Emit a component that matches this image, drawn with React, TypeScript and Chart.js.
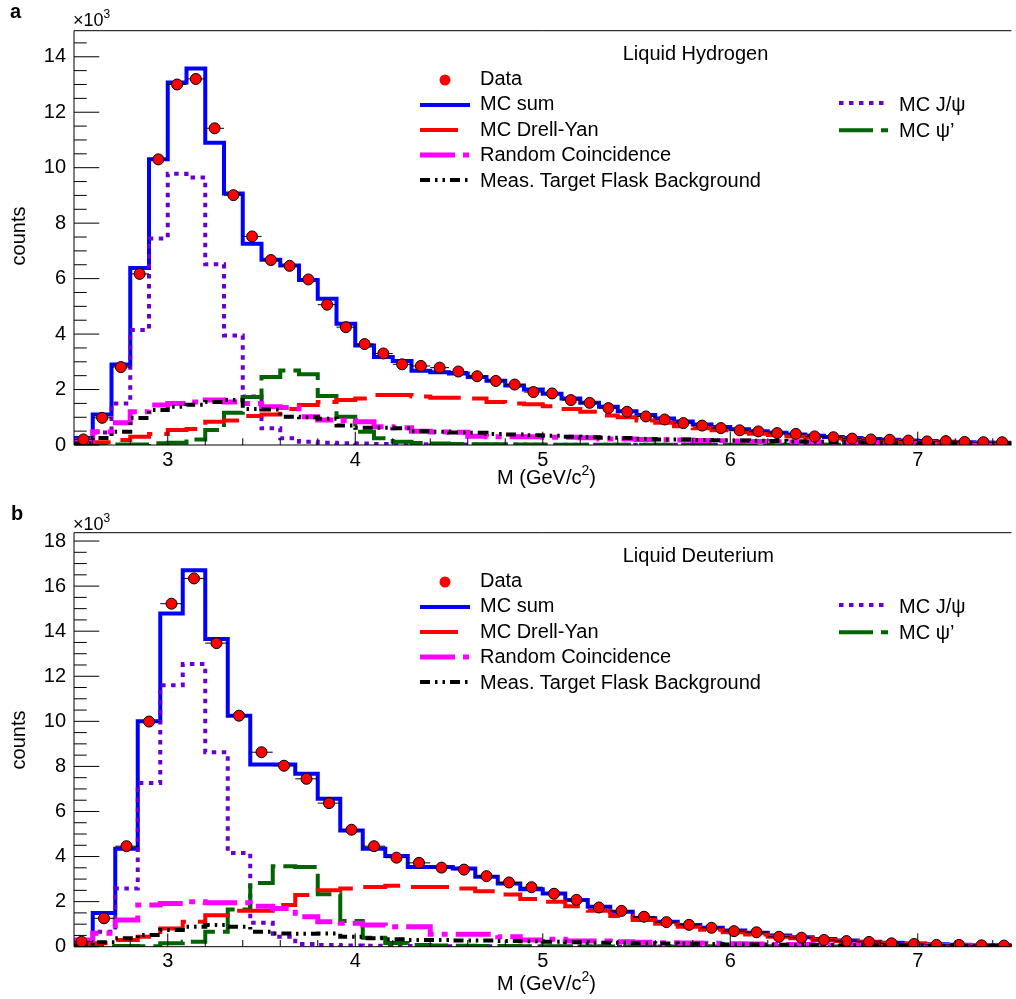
import React, { useEffect, useRef } from 'react';
import { Chart, registerables } from 'chart.js';

Chart.register(...registerables);

const FONT = '"Liberation Sans", Arial, Helvetica, sans-serif';

// ---- axes ----
const X_TICKS = [3, 4, 5, 6, 7];
const Y_TICKS_H = [0, 2, 4, 6, 8, 10, 12, 14];
const Y_TICKS_D = [0, 2, 4, 6, 8, 10, 12, 14, 16, 18];
const X_MIN = 2.5;
const X_MAX = 7.5;
const Y_MAX_H = 14.94;
const Y_MAX_D = 18.37;

// ---- panel a: Liquid Hydrogen (counts in units of 10^3) ----
const H_BIN_WIDTH = 0.1;
const H_BIN_LOW = [2.5, 2.6, 2.7, 2.8, 2.9, 3.0, 3.1, 3.2, 3.3, 3.4, 3.5, 3.6, 3.7, 3.8, 3.9, 4.0, 4.1, 4.2, 4.3, 4.4, 4.5, 4.6, 4.7, 4.8, 4.9, 5.0, 5.1, 5.2, 5.3, 5.4, 5.5, 5.6, 5.7, 5.8, 5.9, 6.0, 6.1, 6.2, 6.3, 6.4, 6.5, 6.6, 6.7, 6.8, 6.9, 7.0, 7.1, 7.2, 7.3, 7.4];
const H_DATA = [0.2, 0.98, 2.81, 6.17, 10.3, 13.0, 13.2, 11.42, 9.01, 7.52, 6.67, 6.46, 5.97, 5.06, 4.25, 3.64, 3.3, 2.91, 2.85, 2.79, 2.65, 2.48, 2.31, 2.18, 1.91, 1.86, 1.62, 1.52, 1.33, 1.2, 1.03, 0.92, 0.79, 0.7, 0.61, 0.53, 0.49, 0.43, 0.4, 0.31, 0.28, 0.23, 0.2, 0.19, 0.16, 0.13, 0.14, 0.11, 0.1, 0.1];
const H_MCSUM = [0.25, 1.1, 2.9, 6.38, 10.3, 13.07, 13.58, 10.9, 9.07, 7.26, 6.68, 6.47, 5.95, 5.27, 4.37, 3.59, 3.17, 3.03, 2.68, 2.62, 2.58, 2.45, 2.32, 2.15, 2.0, 1.85, 1.68, 1.52, 1.38, 1.22, 1.08, 0.96, 0.85, 0.74, 0.65, 0.57, 0.5, 0.44, 0.38, 0.33, 0.29, 0.25, 0.22, 0.19, 0.16, 0.14, 0.12, 0.1, 0.09, 0.08];
const H_DY = [0.05, 0.1, 0.18, 0.3, 0.4, 0.54, 0.58, 0.84, 0.88, 1.05, 1.1, 1.3, 1.44, 1.55, 1.62, 1.68, 1.8, 1.8, 1.75, 1.7, 1.7, 1.68, 1.55, 1.5, 1.47, 1.4, 1.3, 1.2, 1.06, 1.0, 0.88, 0.8, 0.68, 0.6, 0.53, 0.46, 0.41, 0.36, 0.31, 0.27, 0.24, 0.2, 0.18, 0.15, 0.13, 0.11, 0.1, 0.08, 0.07, 0.06];
const H_RC = [0.15, 0.48, 0.8, 1.2, 1.44, 1.5, 1.55, 1.62, 1.55, 1.5, 1.38, 1.35, 1.02, 0.9, 0.88, 0.84, 0.66, 0.62, 0.5, 0.47, 0.46, 0.32, 0.3, 0.3, 0.3, 0.28, 0.28, 0.26, 0.22, 0.22, 0.2, 0.19, 0.18, 0.16, 0.15, 0.14, 0.13, 0.12, 0.11, 0.1, 0.1, 0.09, 0.08, 0.08, 0.07, 0.06, 0.06, 0.05, 0.05, 0.04];
const H_FLASK = [0.05, 0.25, 0.48, 0.97, 1.26, 1.38, 1.45, 1.55, 1.62, 1.3, 1.28, 1.02, 1.0, 0.95, 0.7, 0.62, 0.62, 0.6, 0.5, 0.48, 0.45, 0.44, 0.4, 0.38, 0.35, 0.33, 0.3, 0.28, 0.26, 0.25, 0.22, 0.2, 0.2, 0.18, 0.17, 0.16, 0.15, 0.14, 0.13, 0.12, 0.11, 0.1, 0.09, 0.08, 0.08, 0.07, 0.06, 0.06, 0.05, 0.05];
const H_JPSI = [0.05, 0.45, 1.5, 4.15, 7.45, 9.78, 9.65, 6.52, 3.95, 1.75, 0.6, 0.24, 0.12, 0.08, 0.06, 0.05, 0.04, 0.03, 0.03, 0.02, 0.02, 0.02, 0.02, 0.02, 0.01, 0.01, 0.01, 0.01, 0.01, 0.01, 0.01, 0.01, 0.01, 0.01, 0.01, 0.01, 0.01, 0.01, 0.01, 0.01, 0.01, 0.01, 0.01, 0.01, 0.01, 0.01, 0.01, 0.01, 0.01, 0.01];
const H_PSIP = [0, 0, 0.02, 0.02, 0.06, 0.08, 0.2, 0.54, 1.16, 1.73, 2.45, 2.69, 2.55, 1.77, 1.02, 0.48, 0.24, 0.12, 0.07, 0.05, 0.04, 0.03, 0.03, 0.02, 0.02, 0.01, 0.01, 0.01, 0.01, 0.01, 0.01, 0.01, 0.01, 0.01, 0.01, 0.01, 0.01, 0.01, 0.01, 0.01, 0.01, 0.01, 0.01, 0.01, 0.01, 0.01, 0.01, 0.01, 0.01, 0.01];

// ---- panel b: Liquid Deuterium (counts in units of 10^3) ----
const D_BIN_WIDTH = 0.12;
const D_BIN_LOW = [2.48, 2.60, 2.72, 2.84, 2.96, 3.08, 3.20, 3.32, 3.44, 3.56, 3.68, 3.80, 3.92, 4.04, 4.16, 4.28, 4.40, 4.52, 4.64, 4.76, 4.88, 5.00, 5.12, 5.24, 5.36, 5.48, 5.60, 5.72, 5.84, 5.96, 6.08, 6.20, 6.32, 6.44, 6.56, 6.68, 6.80, 6.92, 7.04, 7.16, 7.28, 7.40];
const D_DATA = [0.22, 1.26, 4.46, 9.99, 15.22, 16.34, 13.47, 10.25, 8.63, 8.03, 7.45, 6.37, 5.19, 4.46, 3.95, 3.72, 3.51, 3.42, 3.13, 2.85, 2.64, 2.35, 2.08, 1.74, 1.59, 1.33, 1.09, 0.97, 0.84, 0.69, 0.64, 0.44, 0.4, 0.3, 0.25, 0.21, 0.15, 0.12, 0.08, 0.08, 0.06, 0.05];
const D_MCSUM = [0.25, 1.5, 4.35, 10.0, 14.78, 16.7, 13.65, 10.25, 8.08, 8.08, 7.67, 6.57, 5.16, 4.35, 4.03, 3.54, 3.54, 3.47, 3.1, 2.8, 2.55, 2.36, 2.07, 1.77, 1.55, 1.26, 1.11, 0.96, 0.84, 0.72, 0.62, 0.5, 0.42, 0.34, 0.28, 0.22, 0.18, 0.14, 0.11, 0.09, 0.07, 0.06];
const D_DY = [0.12, 0.15, 0.3, 0.44, 0.81, 1.11, 1.4, 1.59, 1.59, 1.85, 2.29, 2.51, 2.58, 2.65, 2.7, 2.65, 2.65, 2.58, 2.46, 2.32, 2.12, 1.99, 1.8, 1.59, 1.36, 1.18, 1.02, 0.88, 0.75, 0.64, 0.54, 0.44, 0.37, 0.3, 0.25, 0.2, 0.16, 0.13, 0.1, 0.08, 0.06, 0.05];
const D_RC = [0.3, 0.6, 1.18, 1.85, 1.92, 1.99, 1.95, 1.95, 1.8, 1.7, 1.33, 1.11, 1.04, 0.96, 0.88, 0.88, 0.55, 0.55, 0.55, 0.44, 0.3, 0.33, 0.25, 0.25, 0.22, 0.2, 0.18, 0.16, 0.15, 0.13, 0.12, 0.1, 0.1, 0.08, 0.08, 0.07, 0.06, 0.05, 0.05, 0.04, 0.04, 0.03];
const D_FLASK = [0.05, 0.2, 0.38, 0.52, 0.74, 0.88, 0.96, 0.88, 0.66, 0.59, 0.57, 0.59, 0.44, 0.37, 0.33, 0.3, 0.3, 0.28, 0.27, 0.25, 0.24, 0.22, 0.2, 0.18, 0.17, 0.15, 0.14, 0.13, 0.12, 0.1, 0.1, 0.09, 0.08, 0.07, 0.06, 0.06, 0.05, 0.05, 0.04, 0.04, 0.03, 0.03];
const D_JPSI = [0.1, 0.66, 2.58, 7.26, 11.6, 12.54, 8.63, 4.16, 1.06, 0.44, 0.12, 0.08, 0.05, 0.04, 0.03, 0.03, 0.02, 0.02, 0.02, 0.02, 0.01, 0.01, 0.01, 0.01, 0.01, 0.01, 0.01, 0.01, 0.01, 0.01, 0.01, 0.01, 0.01, 0.01, 0.01, 0.01, 0.01, 0.01, 0.01, 0.01, 0.01, 0.01];
const D_PSIP = [0, 0.01, 0.03, 0.02, 0.15, 0.22, 0.66, 1.65, 2.83, 3.57, 3.54, 2.33, 1.14, 0.4, 0.16, 0.08, 0.05, 0.04, 0.03, 0.03, 0.02, 0.02, 0.01, 0.01, 0.01, 0.01, 0.01, 0.01, 0.01, 0.01, 0.01, 0.01, 0.01, 0.01, 0.01, 0.01, 0.01, 0.01, 0.01, 0.01, 0.01, 0.01];

// ---- styles ----
const ST: any = {
  mcsum: { color: '#0000ff', width: 4, dash: [] },
  dy: { color: '#ff0000', width: 4, dash: [38, 12] },
  rc: { color: '#ff00ff', width: 5, dash: [35, 8, 6, 8] },
  flask: { color: '#000000', width: 4, dash: [10, 5, 2.5, 5, 2.5, 5] },
  jpsi: { color: '#6a00d0', width: 4, dash: [4.5, 5.5] },
  psip: { color: '#006400', width: 4, dash: [34, 8] },
};

const framePlugin = {
  id: 'rootFrame',
  afterDatasetsDraw(chart: any) {
    const { ctx, chartArea: a, scales } = chart;
    const x = scales.x;
    const y = scales.y;
    ctx.save();
    ctx.strokeStyle = '#000';
    ctx.lineWidth = 1;
    ctx.beginPath();
    for (let k = 0; k * 0.5 <= y.max + 1e-9; k++) {
      const py = y.getPixelForValue(k * 0.5);
      const len = k % 4 === 0 ? 25.3 : 12.7;
      ctx.moveTo(a.left, py);
      ctx.lineTo(a.left + len, py);
    }
    for (let k = Math.ceil(x.min / 0.2 - 1e-9); k * 0.2 <= x.max + 1e-9; k++) {
      const px = x.getPixelForValue(k * 0.2);
      const len = k % 5 === 0 ? 13.3 : 6.7;
      ctx.moveTo(px, a.bottom);
      ctx.lineTo(px, a.bottom - len);
    }
    ctx.stroke();
    ctx.beginPath();
    ctx.moveTo(a.left, a.top);
    ctx.lineTo(a.right, a.top);
    ctx.moveTo(a.left, a.bottom);
    ctx.lineTo(a.right, a.bottom);
    ctx.moveTo(a.left, a.top);
    ctx.lineTo(a.left, a.bottom);
    ctx.stroke();
    ctx.restore();
  },
};

function Panel(props: any) {
  const { top, height, padTop, xAxisH, lows, width, yMax, yTicks, s } = props;
  const ref = useRef<HTMLCanvasElement>(null);
  useEffect(() => {
    const canvas = ref.current as HTMLCanvasElement;
    const lastHi = lows[lows.length - 1] + width;
    // histogram outline: points at the upper bin edges, horizontal first
    const step = (vals: number[]) => [
      { x: lows[0], y: vals[0] },
      ...lows.map((lo: number, i: number) => ({ x: i + 1 < lows.length ? lows[i + 1] : lastHi, y: vals[i] })),
    ];
    const line = (key: string, order: number) => ({
      type: 'line',
      data: step(s[key]),
      borderColor: ST[key].color,
      borderWidth: ST[key].width,
      borderDash: ST[key].dash,
      stepped: 'after',
      pointRadius: 0,
      fill: false,
      order,
    });
    const err: any[] = [];
    lows.forEach((lo: number, i: number) => {
      err.push({ x: lo, y: s.data[i] }, { x: lo + width, y: s.data[i] }, { x: lo + width, y: null });
    });
    const pts = lows.map((lo: number, i: number) => ({ x: lo + width / 2, y: s.data[i] }));
    const tickFont = { family: FONT, size: 20 };
    const chart = new Chart(canvas, {
      type: 'line',
      data: {
        datasets: [
          { type: 'scatter', data: pts, pointRadius: 5.5, pointBackgroundColor: '#ff0000', pointBorderColor: '#000', pointBorderWidth: 1, showLine: false, order: 0 },
          { type: 'line', data: err, borderColor: '#000', borderWidth: 1, pointRadius: 0, spanGaps: false, order: 1 },
          line('flask', 2),
          line('rc', 3),
          line('dy', 4),
          line('psip', 5),
          line('jpsi', 6),
          line('mcsum', 7),
        ] as any,
      },
      options: {
        animation: false,
        responsive: false,
        events: [],
        layout: { padding: { top: padTop, left: 0, right: 0.5, bottom: 0 } },
        plugins: { legend: { display: false }, tooltip: { enabled: false }, title: { display: false } },
        scales: {
          x: {
            type: 'linear',
            min: X_MIN,
            max: X_MAX,
            afterBuildTicks: (sc: any) => { sc.ticks = X_TICKS.map((v) => ({ value: v })); },
            afterFit: (sc: any) => { sc.height = xAxisH; },
            grid: { display: false, drawTicks: false },
            border: { display: false },
            ticks: { font: tickFont, color: '#000', padding: 3, maxRotation: 0, autoSkip: false, callback: (v: any) => String(v) },
          },
          y: {
            type: 'linear',
            min: 0,
            max: yMax,
            afterBuildTicks: (sc: any) => { sc.ticks = yTicks.map((v: number) => ({ value: v })); },
            afterFit: (sc: any) => { sc.width = 74; },
            grid: { display: false, drawTicks: false },
            border: { display: false },
            ticks: { font: tickFont, color: '#000', padding: 8, autoSkip: false, callback: (v: any) => String(v) },
          },
        },
      } as any,
      plugins: [framePlugin],
    });
    return () => chart.destroy();
  }, []);
  return (
    <canvas
      ref={ref}
      width={1018}
      height={height}
      style={{ position: 'absolute', left: 0, top, width: 1018, height, display: 'block' }}
    />
  );
}

function T(props: any) {
  const { x, base, size = 20, bold = false, children } = props;
  return (
    <div
      style={{
        position: 'absolute',
        left: x,
        top: base - 0.8465 * size,
        fontSize: size,
        lineHeight: `${size}px`,
        fontWeight: bold ? 'bold' : 'normal',
        whiteSpace: 'nowrap',
      }}
    >
      {children}
    </div>
  );
}

function Sup(props: any) {
  return (
    <span style={{ fontSize: props.size || 13, position: 'relative', top: props.rise || -9, lineHeight: 0 }}>{props.children}</span>
  );
}

function Counts(props: any) {
  return (
    <div
      style={{
        position: 'absolute',
        left: props.cx - 50,
        top: props.cy - 10,
        width: 100,
        height: 20,
        lineHeight: '20px',
        fontSize: 20,
        textAlign: 'center',
        transform: 'rotate(-90deg)',
      }}
    >
      counts
    </div>
  );
}

function Legend(props: any) {
  const { dy, title } = props;
  return (
    <>
      <T x={622.7} base={60 + dy}>{title}</T>
      <T x={480} base={85 + dy}>Data</T>
      <T x={480} base={110.4 + dy}>MC sum</T>
      <T x={480} base={135.8 + dy}>MC Drell-Yan</T>
      <T x={480} base={161.2 + dy}>Random Coincidence</T>
      <T x={480} base={186.6 + dy}>Meas. Target Flask Background</T>
      <T x={899} base={110.6 + dy}>MC J/ψ</T>
      <T x={899} base={137 + dy}>MC ψ’</T>
    </>
  );
}

function LegendGlyphs(props: any) {
  const { dy } = props;
  const ln = (x1: number, x2: number, y: number, st: any) => (
    <line x1={x1} x2={x2} y1={y + dy} y2={y + dy} stroke={st.color} strokeWidth={st.width} strokeDasharray={st.dash.join(' ')} />
  );
  return (
    <g>
      <circle cx={445} cy={80 + dy} r={5.5} fill="#ff0000" />
      {ln(420, 470, 105, ST.mcsum)}
      {ln(420, 470, 130, ST.dy)}
      {ln(420, 470, 155, ST.rc)}
      {ln(420, 470, 180, ST.flask)}
      {ln(839, 888, 103, ST.jpsi)}
      {ln(839, 888, 130.3, ST.psip)}
    </g>
  );
}

const H_SERIES = { data: H_DATA, mcsum: H_MCSUM, dy: H_DY, rc: H_RC, flask: H_FLASK, jpsi: H_JPSI, psip: H_PSIP };
const D_SERIES = { data: D_DATA, mcsum: D_MCSUM, dy: D_DY, rc: D_RC, flask: D_FLASK, jpsi: D_JPSI, psip: D_PSIP };

export default function App() {
  return (
    <div
      style={{
        position: 'absolute',
        left: 0,
        top: 0,
        width: 1016,
        height: 999,
        overflow: 'hidden',
        background: '#fff',
        color: '#000',
        fontFamily: FONT,
      }}
    >
      <Panel top={0} height={500} padTop={30.7} xAxisH={55} lows={H_BIN_LOW} width={H_BIN_WIDTH} yMax={Y_MAX_H} yTicks={Y_TICKS_H} s={H_SERIES} />
      <Panel top={500} height={499} padTop={32.7} xAxisH={52.3} lows={D_BIN_LOW} width={D_BIN_WIDTH} yMax={Y_MAX_D} yTicks={Y_TICKS_D} s={D_SERIES} />

      <svg width={1016} height={999} style={{ position: 'absolute', left: 0, top: 0, pointerEvents: 'none' }}>
        <LegendGlyphs dy={0} />
        <LegendGlyphs dy={502} />
      </svg>

      <T x={10} base={18.3} bold>a</T>
      <T x={11} base={520} bold>b</T>

      <T x={73} base={26.5} size={18}>×10<Sup size={12} rise={-8}>3</Sup></T>
      <T x={73} base={530} size={18}>×10<Sup size={12} rise={-8}>3</Sup></T>

      <Counts cx={18} cy={236} />
      <Counts cx={18} cy={740} />

      <T x={497} base={483.5}>M (GeV/c<Sup size={14} rise={-9}>2</Sup>)</T>
      <T x={497} base={990}>M (GeV/c<Sup size={14} rise={-9}>2</Sup>)</T>

      <Legend dy={0} title="Liquid Hydrogen" />
      <Legend dy={502} title="Liquid Deuterium" />
    </div>
  );
}
